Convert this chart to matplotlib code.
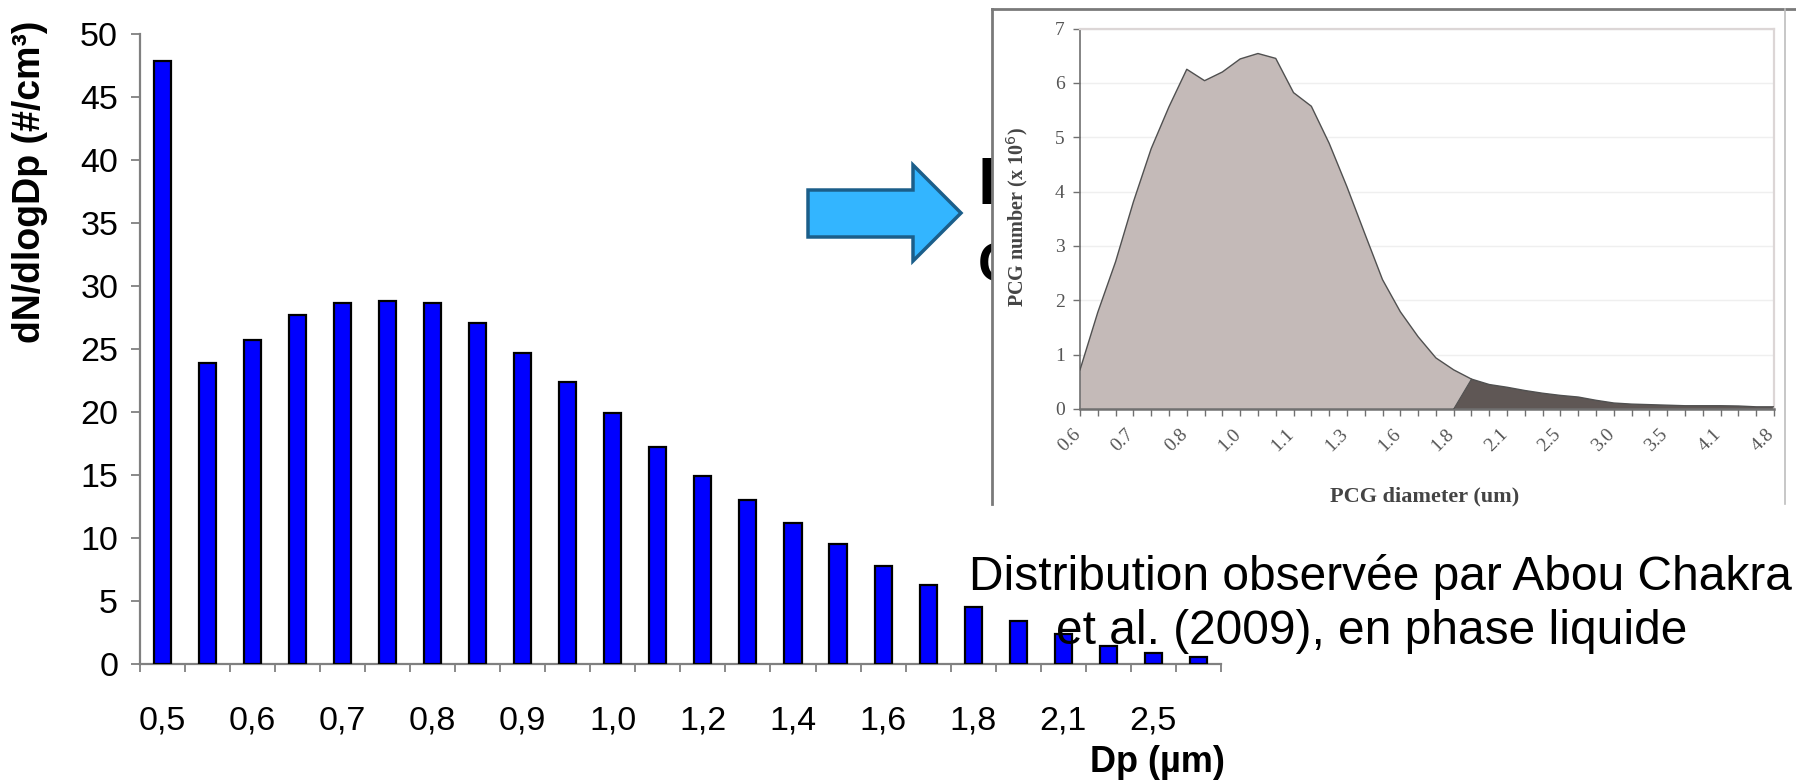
import matplotlib
matplotlib.use("Agg")
import matplotlib.pyplot as plt
from matplotlib.patches import Polygon, Rectangle
from matplotlib.lines import Line2D
from matplotlib.transforms import ScaledTranslation
import numpy as np

# ---------------- data ----------------
bar_values = [47.9, 23.9, 25.7, 27.7, 28.7, 28.85, 28.7, 27.05, 24.7, 22.4,
              19.9, 17.25, 14.9, 13.05, 11.2, 9.55, 7.75, 6.25, 4.55, 3.4,
              2.4, 1.4, 0.9, 0.58]
bar_tick_labels = ['0,5', '0,6', '0,7', '0,8', '0,9', '1,0', '1,2', '1,4',
                   '1,6', '1,8', '2,1', '2,5']
y_ticks = list(range(0, 51, 5))

pcg_values = [0.72, 1.78, 2.71, 3.81, 4.79, 5.56, 6.25, 6.04, 6.20, 6.44,
              6.54, 6.45, 5.82, 5.57, 4.89, 4.09, 3.23, 2.38, 1.79, 1.33,
              0.94, 0.72, 0.55, 0.45, 0.40, 0.34, 0.29, 0.25, 0.22, 0.16,
              0.11, 0.09, 0.08, 0.07, 0.06, 0.06, 0.06, 0.055, 0.04, 0.04]
pcg_coarse_start = 21   # index where the dark (coarse) part begins
pcg_tick_labels = ['0.6', '0.7', '0.8', '1.0', '1.1', '1.3', '1.6', '1.8',
                   '2.1', '2.5', '3.0', '3.5', '4.1', '4.8']
pcg_y_ticks = list(range(0, 8))

caption_lines = ["Distribution observée par Abou Chakra",
                 "et al. (2009), en phase liquide"]

# ---------------- figure ----------------
W, H = 1796, 782
fig = plt.figure(figsize=(W / 100, H / 100), dpi=100)
fig.patch.set_facecolor('white')
plt.rcParams['font.family'] = ['Liberation Sans', 'DejaVu Sans']

def fx(px):
    return px / W

def fy(py):
    return 1 - py / H

# ---------------- left bar chart ----------------
L, R, T, B = 139.7, 1221, 34.4, 664
ax = fig.add_axes([fx(L), fy(B), fx(R - L), (B - T) / H])
n = len(bar_values)
xpos = np.arange(n)
ax.bar(xpos, bar_values, width=0.38, color='#0000FF', edgecolor='black',
       linewidth=1.6, zorder=3)
ax.set_xlim(-0.5, n - 0.5)
ax.set_ylim(0, 50)
for s in ['top', 'right']:
    ax.spines[s].set_visible(False)
for s in ['left', 'bottom']:
    ax.spines[s].set_color('#808080')
    ax.spines[s].set_linewidth(1.6)
ax.set_yticks(y_ticks)
ax.set_yticklabels([str(v) for v in y_ticks])
ax.tick_params(axis='y', direction='out', length=6.5, width=1.3,
               color='#808080', labelsize=24.5, pad=9)
ax.set_xticks(xpos[::2][:len(bar_tick_labels)])
ax.set_xticklabels(bar_tick_labels)
ax.tick_params(axis='x', which='major', length=0, labelsize=24.5, pad=30)
ax.set_xticks(np.arange(-0.5, n, 1.0), minor=True)
ax.tick_params(axis='x', which='minor', direction='out', length=6,
               width=1.3, color='#808080')

fig.text(fx(30), fy(21), 'dN/dlogDp (#/cm³)', rotation=90, ha='center',
         va='top', fontsize=27, fontweight='bold')
fig.text(fx(1225), fy(762), 'Dp (µm)', ha='right', va='center',
         fontsize=26, fontweight='bold')

# ---------------- hidden text behind inset ----------------
fig.text(fx(978), fy(204), 'D', ha='left', va='baseline', fontsize=48,
         fontweight='bold', zorder=1)
fig.text(fx(978), fy(282), 'C', ha='left', va='baseline', fontsize=40,
         fontweight='bold', zorder=1)

# ---------------- inset frame ----------------
FL, FR, FT, FB = 992, 1785, 9, 504
fig.add_artist(Rectangle((fx(FL), fy(FB)), fx(FR - FL), (FB - FT) / H,
                         transform=fig.transFigure, facecolor='white',
                         edgecolor='none', zorder=2))
frame_kw = dict(transform=fig.transFigure, color='#7a7a7a', linewidth=2,
                zorder=4)
fig.add_artist(Line2D([fx(FL), fx(FL)], [fy(FB), fy(FT)], **frame_kw))
fig.add_artist(Line2D([fx(FL), fx(W)], [fy(FT), fy(FT)], **frame_kw))
fig.add_artist(Line2D([fx(FR), fx(FR)], [fy(FB), fy(FT)],
                      transform=fig.transFigure, color='#bdbdbd',
                      linewidth=1.2, zorder=4))

# ---------------- inset chart ----------------
IL, IR, IT, IB = 1080, 1774, 28.5, 409
ax2 = fig.add_axes([fx(IL), fy(IB), fx(IR - IL), (IB - IT) / H])
ax2.set_zorder(3)
m = len(pcg_values)
xi = np.arange(m)
vals = np.array(pcg_values)
k = pcg_coarse_start
light_x = np.concatenate([[xi[0]], xi[:k + 2], [xi[k]]])
light_y = np.concatenate([[0], vals[:k + 2], [0]])
ax2.fill(light_x, light_y, facecolor='#c4bab8', edgecolor='none', zorder=2)
dark_x = np.concatenate([[xi[k]], xi[k + 1:], [xi[-1]]])
dark_y = np.concatenate([[0], vals[k + 1:], [0]])
ax2.fill(dark_x, dark_y, facecolor='#5f5755', edgecolor='none', zorder=2)
ax2.plot(xi, vals, color='#505050', linewidth=1.0, zorder=3)
ax2.plot([xi[k], xi[k + 1]], [0, vals[k + 1]], color='#505050',
         linewidth=0.8, zorder=3)
ax2.set_xlim(0, m - 1)
ax2.set_ylim(0, 7)
ax2.set_yticks(pcg_y_ticks)
ax2.yaxis.grid(True, color='#efefef', linewidth=1)
ax2.set_axisbelow(True)
for s in ['top', 'right']:
    ax2.spines[s].set_color('#dcd6d6')
    ax2.spines[s].set_linewidth(1.6)
for s in ['left', 'bottom']:
    ax2.spines[s].set_color('#707070')
    ax2.spines[s].set_linewidth(1.2)
ax2.spines['bottom'].set_linewidth(1.8)
serif = ['Liberation Serif', 'DejaVu Serif']
ax2.tick_params(axis='y', direction='out', length=5, width=1,
                color='#707070', labelsize=14, labelcolor='#555555', pad=6)
for lab in ax2.get_yticklabels():
    lab.set_family(serif)
ax2.set_xticks(xi, minor=True)
ax2.tick_params(axis='x', which='minor', direction='out', length=5,
                width=1, color='#707070')
ax2.set_xticks(xi[::3][:len(pcg_tick_labels)])
ax2.set_xticklabels(pcg_tick_labels, rotation=45, ha='right', va='top',
                    rotation_mode='anchor', family=serif)
ax2.tick_params(axis='x', which='major', direction='out', length=5,
                width=1, color='#707070', labelsize=14,
                labelcolor='#555555', pad=7)
shift = ScaledTranslation(-8 / 100, 0, fig.dpi_scale_trans)
for lab in ax2.get_xticklabels():
    lab.set_transform(lab.get_transform() + shift)
fig.text(fx(1425), fy(496), 'PCG diameter (um)', ha='center', va='center',
         fontsize=16, fontweight='bold', color='#444444', family=serif,
         zorder=5)
fig.text(fx(1017), fy(217), 'PCG number (x 10$^{6}$)', rotation=90,
         ha='center', va='center', fontsize=14.5, fontweight='bold',
         color='#444444', family=serif, zorder=5)

# ---------------- arrow ----------------
arrow_px = [(808, 190), (913, 190), (913, 165), (961, 213), (913, 261),
            (913, 237), (808, 237)]
arrow_fig = [(fx(x), fy(y)) for x, y in arrow_px]
fig.add_artist(Polygon(arrow_fig, closed=True, transform=fig.transFigure,
                       facecolor='#33b5ff', edgecolor='#1b5e8a',
                       linewidth=2.5, zorder=5))

# ---------------- caption ----------------
fig.text(fx(1380), fy(577), caption_lines[0], ha='center', va='center',
         fontsize=34.5, zorder=5)
fig.text(fx(1372), fy(631), caption_lines[1], ha='center', va='center',
         fontsize=34.5, zorder=5)

fig.savefig('out.png', dpi=100)
